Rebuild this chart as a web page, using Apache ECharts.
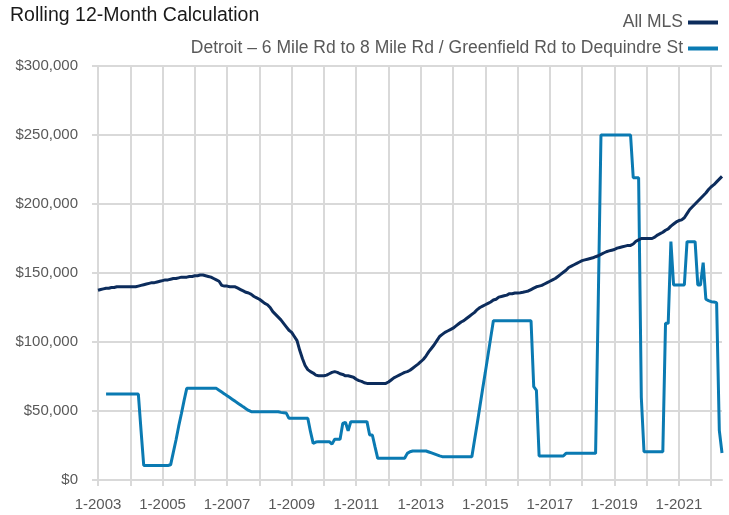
<!DOCTYPE html>
<html>
<head>
<meta charset="utf-8">
<script src="https://cdn.jsdelivr.net/npm/echarts@6/dist/echarts.min.js"></script>
<style>
  html, body { margin: 0; padding: 0; background: #fff; }
  #main { width: 729px; height: 515px; }
</style>
</head>
<body>
<div id="main"></div>
<script>
// monthly values, in thousands of dollars, 1-2003 .. 5-2022
let allMls = [
  137.5,138,138.5,139,139,139.5,139.5,140,140,140,140,140,
  140,140,140,140.5,141,141.5,142,142.5,143,143,143.5,144,
  144.5,145,145,145.5,146,146,146.5,147,147,147,147.5,147.5,
  148,148,148.5,148.5,148,147.5,147,146,145,144,141,140.5,
  140.5,140,140,140,139,138,137,136,135.5,134.5,133,132,
  131,129.5,128,127,125,122,120,118,116,113.5,111,108.5,
  107,104,101,94,88,83,80,78.5,77.5,76,75.5,75.5,
  75.5,76,77,78,78.5,78,77,76.5,75.5,75.5,75,74.5,
  73,72,71.5,70.5,70,70,70,70,70,70,70,70,
  71,72.5,74,75,76,77,78,78.5,79.5,81,82.5,84,
  85.7,87.5,90,93,95.5,98,101,104,105.5,107,108,109,
  110,111.5,113,114.5,115.5,117,118.5,120,121.5,123.5,125,126,
  127,128,129,130.4,131,132.5,133,133.5,134,135,135,135.5,
  135.5,135.7,136,136.5,137,138,139,140,140.5,141,142,143,
  144,145,146,147.5,149,150.5,152,154,155,156,157,158,
  159,159.5,160,160.5,161,161.8,162.5,163.5,164.5,165.4,166,166.5,
  167,168,168.5,169,169.5,170,170,171,173,174,175,175,
  175,175,175,176,177.5,178.5,179.5,181,182,184,185.5,187,
  188,188.5,190,193,196,198,200,202,204,206,208,210.5,
  212.5,214,216,218,220
]

let detroit = [
  null,null,null,62.3,62.3,62.3,62.3,62.3,62.3,62.3,62.3,62.3,
  62.3,62.3,62.3,62.3,36,10.5,10.5,10.5,10.5,10.5,10.5,10.5,
  10.5,10.5,10.5,11,20,29,39,48,57.5,66.4,66.4,66.4,
  66.4,66.4,66.4,66.4,66.4,66.4,66.4,66.4,66.4,65,63.7,62.4,
  61,59.7,58.4,57,55.7,54.4,53,51.7,50.4,49.5,49.5,49.5,
  49.5,49.5,49.5,49.5,49.5,49.5,49.5,49.5,49,48.8,48.5,44.7,
  44.7,44.7,44.7,44.7,44.7,44.7,44.7,35,26.6,27.5,27.8,27.8,
  27.8,27.8,27.8,26,29.5,29.5,29.5,41,41.8,35.7,42.3,42.3,
  42.3,42.3,42.3,42.3,42.3,32.6,32.6,24,15.7,15.7,15.7,15.7,
  15.7,15.7,15.7,15.7,15.7,15.7,15.7,19.3,20.5,21,21,21,
  21,21,21,20.3,19.6,18.9,18.2,17.5,16.9,16.9,16.9,16.9,
  16.9,16.9,16.9,16.9,16.9,16.9,16.9,16.9,29,41,53.5,66,
  78,90.5,103,115.4,115.4,115.4,115.4,115.4,115.4,115.4,115.4,115.4,
  115.4,115.4,115.4,115.4,115.4,115.4,67.6,65,17.4,17.4,17.4,17.4,
  17.4,17.4,17.4,17.4,17.4,17.4,19.3,19.3,19.3,19.3,19.3,19.3,
  19.3,19.3,19.3,19.3,19.3,19.3,130,250,250,250,250,250,
  250,250,250,250,250,250,250,219,219,219,60,20.5,
  20.5,20.5,20.5,20.5,20.5,20.5,20.5,113.5,113.5,172.7,141.3,141.3,
  141.3,141.3,141.3,172.7,172.7,172.7,172.7,141.3,141.3,157.5,131,130,
  129.2,129,128.5,36,19.6
]

let seriesNames = ['All MLS', 'Detroit – 6 Mile Rd to 8 Mile Rd / Greenfield Rd to Dequindre St']
let firstYear = 2003
let yTicks = [0, 50000, 100000, 150000, 200000, 250000, 300000]

// month labels like "1-2003"
let months = []
for (let i = 0; i < allMls.length; i++) {
  months.push((i % 12 + 1) + '-' + (firstYear + Math.floor(i / 12)))
}

const toDollars = v => (v == null ? null : v * 1000)
const gridColor = '#d9d9d9'
const labelColor = '#595959'
const font = '"Liberation Sans", Arial, sans-serif'

const chart = echarts.init(document.getElementById('main'), null, { renderer: 'canvas' })

let option = {
  animation: false,
  title: {
    text: 'Rolling 12-Month Calculation',
    left: 5,
    top: 1,
    textStyle: { fontFamily: font, fontSize: 19.5, fontWeight: 'normal', color: '#1a1a1a' }
  },
  legend: {
    orient: 'vertical',
    align: 'right',
    right: 6,
    top: 7,
    itemGap: 5,
    itemWidth: 30,
    itemHeight: 4,
    icon: 'rect',
    textStyle: { fontFamily: font, fontSize: 17.5, color: labelColor, lineHeight: 21 },
    data: seriesNames
  },
  grid: {
    left: 98,
    right: 7,
    top: 66,
    bottom: 35
  },
  xAxis: {
    type: 'category',
    boundaryGap: false,
    data: months,
    axisLine: { lineStyle: { color: gridColor, width: 2 } },
    axisTick: {
      length: 6,
      interval: i => i % 12 === 0,
      lineStyle: { color: gridColor, width: 2 }
    },
    splitLine: {
      show: true,
      interval: i => i % 12 === 0,
      lineStyle: { color: gridColor, width: 2 }
    },
    axisLabel: {
      interval: i => i % 24 === 0,
      margin: 17,
      fontFamily: font,
      fontSize: 15,
      color: labelColor
    }
  },
  yAxis: {
    type: 'value',
    min: yTicks[0],
    max: yTicks[yTicks.length - 1],
    interval: yTicks[1] - yTicks[0],
    axisLine: { show: true, lineStyle: { color: gridColor, width: 2 } },
    axisTick: { show: true, length: 6, lineStyle: { color: gridColor, width: 2 } },
    splitLine: { lineStyle: { color: gridColor, width: 2 } },
    axisLabel: {
      margin: 20,
      fontFamily: font,
      fontSize: 15,
      color: labelColor,
      formatter: v => '$' + v.toLocaleString('en-US')
    }
  },
  series: [{
    name: seriesNames[0],
    type: 'line',
    data: allMls.map(toDollars),
    symbol: 'none',
    color: '#0c2c5c',
    lineStyle: { width: 3, color: '#0c2c5c' },
    z: 3
  }, {
    name: seriesNames[1],
    type: 'line',
    data: detroit.map(toDollars),
    symbol: 'none',
    color: '#0a7ab2',
    lineStyle: { width: 3, color: '#0a7ab2' },
    z: 2
  }]
}

chart.setOption(option)
</script>
</body>
</html>
